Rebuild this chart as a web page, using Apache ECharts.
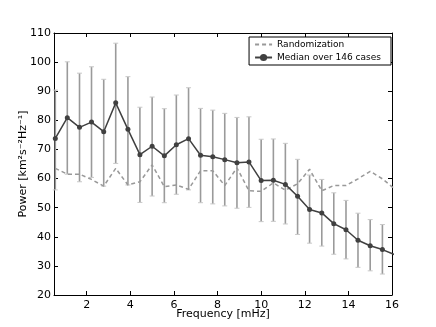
<!DOCTYPE html>
<html>
<head>
<meta charset="utf-8">
<script src="https://cdn.jsdelivr.net/npm/echarts@6/dist/echarts.min.js"></script>
<style>
  html, body { margin: 0; padding: 0; background: #fff; }
  #chart { width: 436px; height: 327px; }
</style>
</head>
<body>
<div id="chart"></div>
<script>
// frequency of each bin, mHz
const freqs = [0.56, 1.11, 1.67, 2.22, 2.78, 3.33, 3.89, 4.44, 5.00, 5.56, 6.11, 6.67, 7.22, 7.78, 8.33,
  8.89, 9.44, 10.00, 10.56, 11.11, 11.67, 12.22, 12.78, 13.33, 13.89, 14.44, 15.00, 15.56, 16.11]
const median = [73.8, 80.9, 77.6, 79.4, 76.1, 86.0, 76.9, 68.2, 71.1, 67.8, 71.6, 73.7, 68.0, 67.5, 66.5,
  65.4, 65.7, 59.3, 59.4, 58.0, 53.9, 49.4, 48.2, 44.5, 42.4, 38.8, 36.9, 35.6, 33.9]
const upper = [90.4, 100.1, 96.2, 98.4, 94.1, 106.5, 95.0, 84.5, 88.0, 84.0, 88.7, 91.2, 84.1, 83.5, 82.4,
  81.0, 81.2, 73.5, 73.6, 72.1, 66.6, 61.2, 59.7, 55.1, 52.5, 48.1, 45.9, 44.2, 42.5]
const lower = [56.1, 61.5, 58.9, 60.4, 57.4, 65.2, 57.8, 51.8, 54.0, 51.7, 54.6, 56.1, 51.7, 51.3, 50.6,
  49.8, 50.1, 45.2, 45.3, 44.4, 40.8, 37.8, 36.8, 34.0, 32.4, 29.5, 28.3, 27.2, 26.0]
const randomization = [63.5, 61.5, 61.5, 59.7, 57.4, 63.5, 57.8, 58.9, 64.7, 57.2, 57.8, 56.3, 62.7, 62.7, 57.6,
  63.7, 55.8, 55.6, 58.5, 56.0, 58.2, 63.2, 55.8, 57.6, 57.6, 59.9, 62.5, 59.9, 56.5]
const xTicks = [2, 4, 6, 8, 10, 12, 14, 16]

const xMin = 0.5
const xMax = 16
const font = 'DejaVu Sans'

const chart = echarts.init(document.getElementById('chart'))

const renderErrorBar = (params, api) => {
  const x = api.value(0)
  if (x > xMax) return null
  const lo = api.coord([x, api.value(1)])
  const hi = api.coord([x, api.value(2)])
  const cap = 2.5
  const style = { stroke: '#9a9a9a', lineWidth: 1.6 }
  const capStyle = { stroke: '#c8c8c8', lineWidth: 1 }
  return {
    type: 'group',
    children: [
      { type: 'line', shape: { x1: lo[0], y1: lo[1], x2: hi[0], y2: hi[1] }, style },
      { type: 'line', shape: { x1: lo[0] - cap, y1: lo[1], x2: lo[0] + cap, y2: lo[1] }, style: capStyle },
      { type: 'line', shape: { x1: hi[0] - cap, y1: hi[1], x2: hi[0] + cap, y2: hi[1] }, style: capStyle }
    ]
  }
}

const baseX = {
  type: 'value',
  min: xMin,
  max: xMax,
  splitLine: { show: false },
  axisLine: { show: true, onZero: false, lineStyle: { color: '#000', width: 1 } },
  axisTick: { inside: true, length: 4, customValues: xTicks, lineStyle: { color: '#000' } }
}
const baseY = {
  type: 'value',
  min: 20,
  max: 110,
  interval: 10,
  splitLine: { show: false },
  axisLine: { show: true, onZero: false, lineStyle: { color: '#000', width: 1 } },
  axisTick: { inside: true, length: 4, lineStyle: { color: '#000' } }
}

chart.setOption({
  animation: false,
  textStyle: { fontFamily: font },
  grid: { left: 54, right: 44, top: 33, bottom: 32 },
  legend: {
    orient: 'vertical',
    right: 45,
    top: 37,
    padding: [3, 10, 3, 5],
    itemGap: 4,
    itemWidth: 17,
    itemHeight: 9,
    borderColor: '#000',
    borderWidth: 1,
    backgroundColor: '#fff',
    textStyle: { fontFamily: font, fontSize: 9, color: '#000' },
    data: [
      { name: 'Randomization', itemStyle: { opacity: 0 } },
      { name: 'Median over 146 cases' }
    ]
  },
  xAxis: [
    Object.assign({}, baseX, {
      position: 'bottom',
      name: 'Frequency [mHz]',
      nameLocation: 'middle',
      nameGap: 14,
      nameMoveOverlap: false,
      nameTextStyle: { fontFamily: font, fontSize: 11, color: '#000' },
      axisLabel: { customValues: xTicks, margin: 5, fontFamily: font, fontSize: 11, color: '#000' }
    }),
    Object.assign({}, baseX, { position: 'top', axisLabel: { show: false } })
  ],
  yAxis: [
    Object.assign({}, baseY, {
      position: 'left',
      name: 'Power [km\u00b2s\u207b\u00b2Hz\u207b\u00b9]',
      nameLocation: 'middle',
      nameGap: 25,
      nameMoveOverlap: false,
      nameTextStyle: { fontFamily: font, fontSize: 11, color: '#000' },
      axisLabel: { margin: 3, fontFamily: font, fontSize: 11, color: '#000' }
    }),
    Object.assign({}, baseY, { position: 'right', axisLabel: { show: false } })
  ],
  series: [
    {
      name: 'errorbars',
      type: 'custom',
      renderItem: renderErrorBar,
      encode: { x: 0, y: [1, 2] },
      data: freqs.map((f, i) => [f, lower[i], upper[i]]),
      z: 1
    },
    {
      name: 'Randomization',
      type: 'line',
      data: freqs.map((f, i) => [f, randomization[i]]),
      showSymbol: false,
      symbol: 'none',
      lineStyle: { color: '#999', width: 1.5, type: [4, 3] },
      itemStyle: { color: '#999' },
      z: 2
    },
    {
      name: 'Median over 146 cases',
      type: 'line',
      data: freqs.map((f, i) => [f, median[i]]),
      symbol: 'circle',
      symbolSize: 5,
      lineStyle: { color: '#404040', width: 1.5 },
      itemStyle: { color: '#404040' },
      z: 3
    }
  ]
})

window.addEventListener('resize', () => {
  chart.resize()
})
</script>
</body>
</html>
